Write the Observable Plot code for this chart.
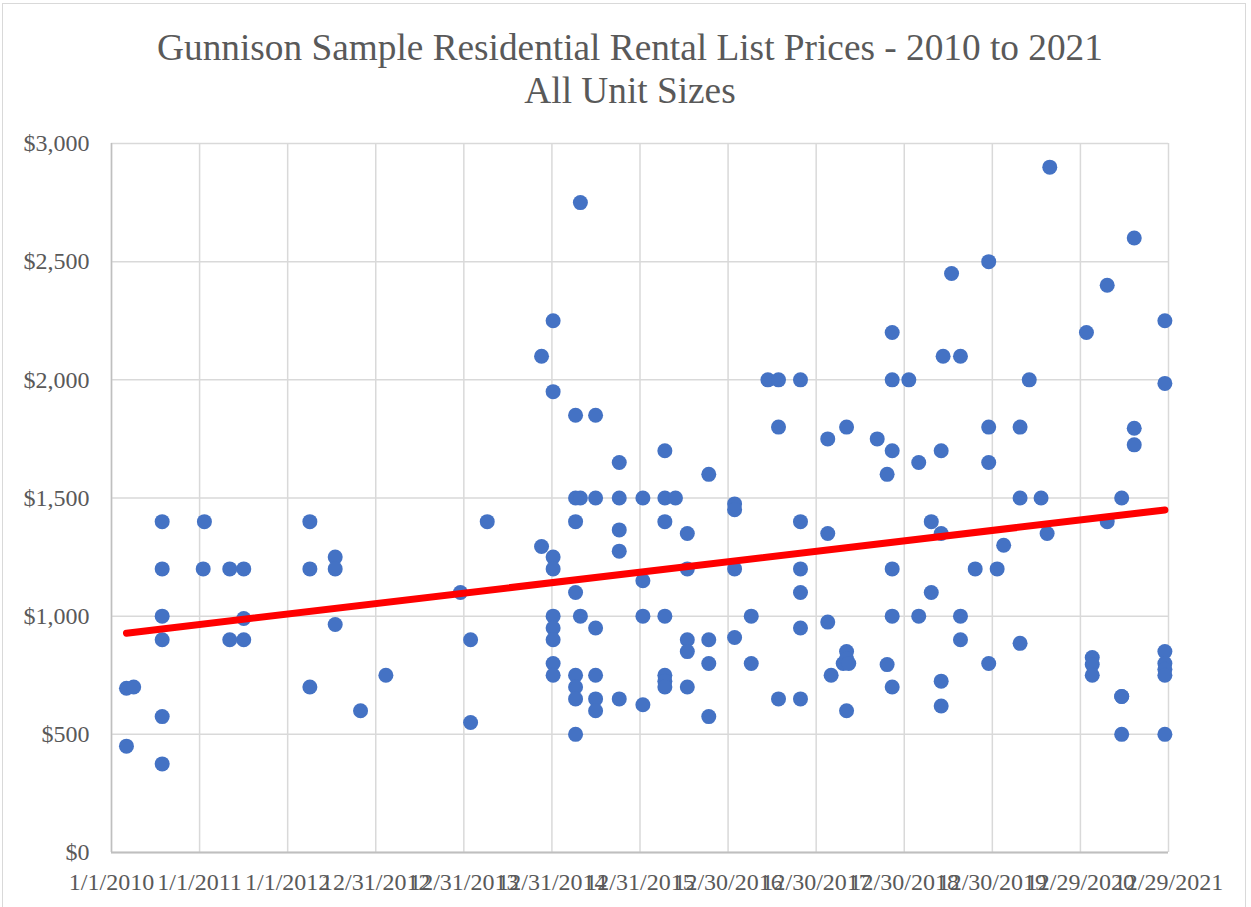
<!DOCTYPE html>
<html>
<head>
<meta charset="utf-8">
<script src="https://cdn.jsdelivr.net/npm/d3@7"></script>
<script src="https://cdn.jsdelivr.net/npm/@observablehq/plot@0.6"></script>
<style>
  html, body { margin: 0; padding: 0; background: #fff; }
  #wrap { position: relative; width: 1251px; height: 907px; overflow: hidden; font-family: "Liberation Serif", "Times New Roman", serif; }
  #frame { position: absolute; left: 2px; top: 3px; width: 1244px; height: 910px; border: 1.5px solid #d9d9d9; box-sizing: border-box; }
  #title { position: absolute; left: 0; top: 26px; width: 1260px; text-align: center; font-size: 37.3px; line-height: 43px; color: #595959; }
  #chart { position: absolute; left: 0; top: 110px; }
</style>
</head>
<body>
<div id="wrap">
  <div id="frame"></div>
  <div id="title">Gunnison Sample Residential Rental List Prices - 2010 to 2021<br>All Unit Sizes</div>
  <div id="chart"></div>
</div>
<script>
// Listing dates and the list prices ($/month) posted on each date
const listDates = [
  "2010-03-04","2010-04-03","2010-07-30","2011-01-16","2011-01-21","2011-05-06","2011-07-03",
  "2012-04-02","2012-07-16","2012-10-29","2013-02-11","2013-12-17","2014-01-28","2014-04-07",
  "2014-11-18","2015-01-05","2015-04-08","2015-04-28","2015-06-30","2015-10-06","2016-01-12",
  "2016-04-12","2016-05-26","2016-07-14","2016-10-11","2017-01-26","2017-04-05","2017-06-13",
  "2017-07-27","2017-10-26","2018-02-16","2018-03-02","2018-04-21","2018-05-05","2018-05-14",
  "2018-09-09","2018-10-20","2018-11-10","2019-01-18","2019-02-28","2019-04-21","2019-06-01",
  "2019-06-09","2019-07-14","2019-08-20","2019-10-20","2019-12-15","2020-01-19","2020-02-15",
  "2020-04-23","2020-05-31","2020-07-19","2020-08-13","2020-08-24","2021-01-23","2021-02-16",
  "2021-04-19","2021-06-18","2021-08-09","2021-12-14"
];
const listPrices = [
  [450, 695], [700], [1400, 1200, 1000, 900, 575, 375], [1200], [1400], [1200, 900], [1200, 990, 900],
  [1400, 1200, 700], [1250, 1200, 965], [600], [750], [1100], [900, 550], [1400],
  [2100, 1295], [2250, 1950, 1250, 1200, 1000, 950, 900, 800, 750], [1850, 1500, 1400, 1100, 750, 700, 650, 500], [2750, 1500, 1000], [1850, 1500, 950, 750, 650, 600], [1650, 1500, 1365, 1275, 650], [1500, 1150, 1000, 625],
  [1700, 1500, 1400, 1000, 750, 725, 700], [1500], [1350, 1200, 900, 850, 700], [1600, 900, 800, 575], [1475, 1450, 1200, 910], [1000, 800], [2000],
  [2000, 1800, 650], [2000, 1400, 1200, 1100, 950, 650], [1750, 1350, 975], [750], [800], [1800, 850, 820, 600], [800],
  [1750], [1600, 795], [2200, 2000, 1700, 1200, 1000, 700], [2000], [1650, 1000], [1400, 1100], [1700, 1350, 725, 620],
  [2100], [2450], [2100, 1000, 900], [1200], [2500, 1800, 1650, 800], [1200], [1300],
  [1800, 1500, 885], [2000], [1500], [1350], [2900], [2200], [825, 795, 750],
  [2400, 1400], [1500, 660, 660, 500], [2600, 1795, 1725], [2250, 1985, 850, 800, 775, 750, 500]
];
const xTickLabels = ["1/1/2010","1/1/2011","1/1/2012","12/31/2012","12/31/2013","12/31/2014","12/31/2015",
  "12/30/2016","12/30/2017","12/30/2018","12/30/2019","12/29/2020","12/29/2021"];
const yTicks = [0, 500, 1000, 1500, 2000, 2500, 3000];

const parseTick = d3.utcParse("%m/%d/%Y");
const xTicks = xTickLabels.map(parseTick);

const listings = listDates.flatMap((d, i) => listPrices[i].map(p => ({date: new Date(d), price: p})));

// Linear trendline (least squares), spanning the data's date range
const xs = listings.map(d => +d.date), ys = listings.map(d => d.price);
const mx = d3.mean(xs), my = d3.mean(ys);
const slope = d3.sum(xs, (x, i) => (x - mx) * (ys[i] - my)) / d3.sum(xs, x => (x - mx) ** 2);
const [xmin, xmax] = d3.extent(xs);
const trend = [xmin, xmax].map(x => ({date: new Date(x), price: my + slope * (x - mx)}));

const chart = Plot.plot({
  width: 1251,
  height: 797,
  marginTop: 33,
  marginBottom: 55,
  marginLeft: 111,
  marginRight: 83,
  style: {fontFamily: '"Liberation Serif", "Times New Roman", serif', fontSize: "24px", color: "#595959", background: "transparent"},
  x: {type: "utc", domain: [xTicks[0], xTicks[xTicks.length - 1]]},
  y: {domain: [0, 3000]},
  marks: [
    Plot.gridY(yTicks, {stroke: "#d9d9d9", strokeOpacity: 1, strokeWidth: 1.5}),
    Plot.gridX(xTicks, {stroke: "#d9d9d9", strokeOpacity: 1, strokeWidth: 1.5}),
    Plot.ruleX([xTicks[0]], {stroke: "#bfbfbf", strokeWidth: 1.5}),
    Plot.ruleY([0], {stroke: "#bfbfbf", strokeWidth: 2}),
    Plot.axisY({ticks: yTicks, tickSize: 0, tickPadding: 22, tickFormat: d => "$" + d3.format(",")(d), label: null}),
    Plot.axisX({ticks: xTicks, tickSize: 0, tickPadding: 20, tickFormat: (d, i) => xTickLabels[i], label: null}),
    Plot.dot(listings, {x: "date", y: "price", r: 7.5, fill: "#4472C4", stroke: null}),
    Plot.line(trend, {x: "date", y: "price", stroke: "#FF0000", strokeWidth: 7, strokeLinecap: "round"})
  ]
});
document.getElementById("chart").appendChild(chart);
</script>
</body>
</html>
